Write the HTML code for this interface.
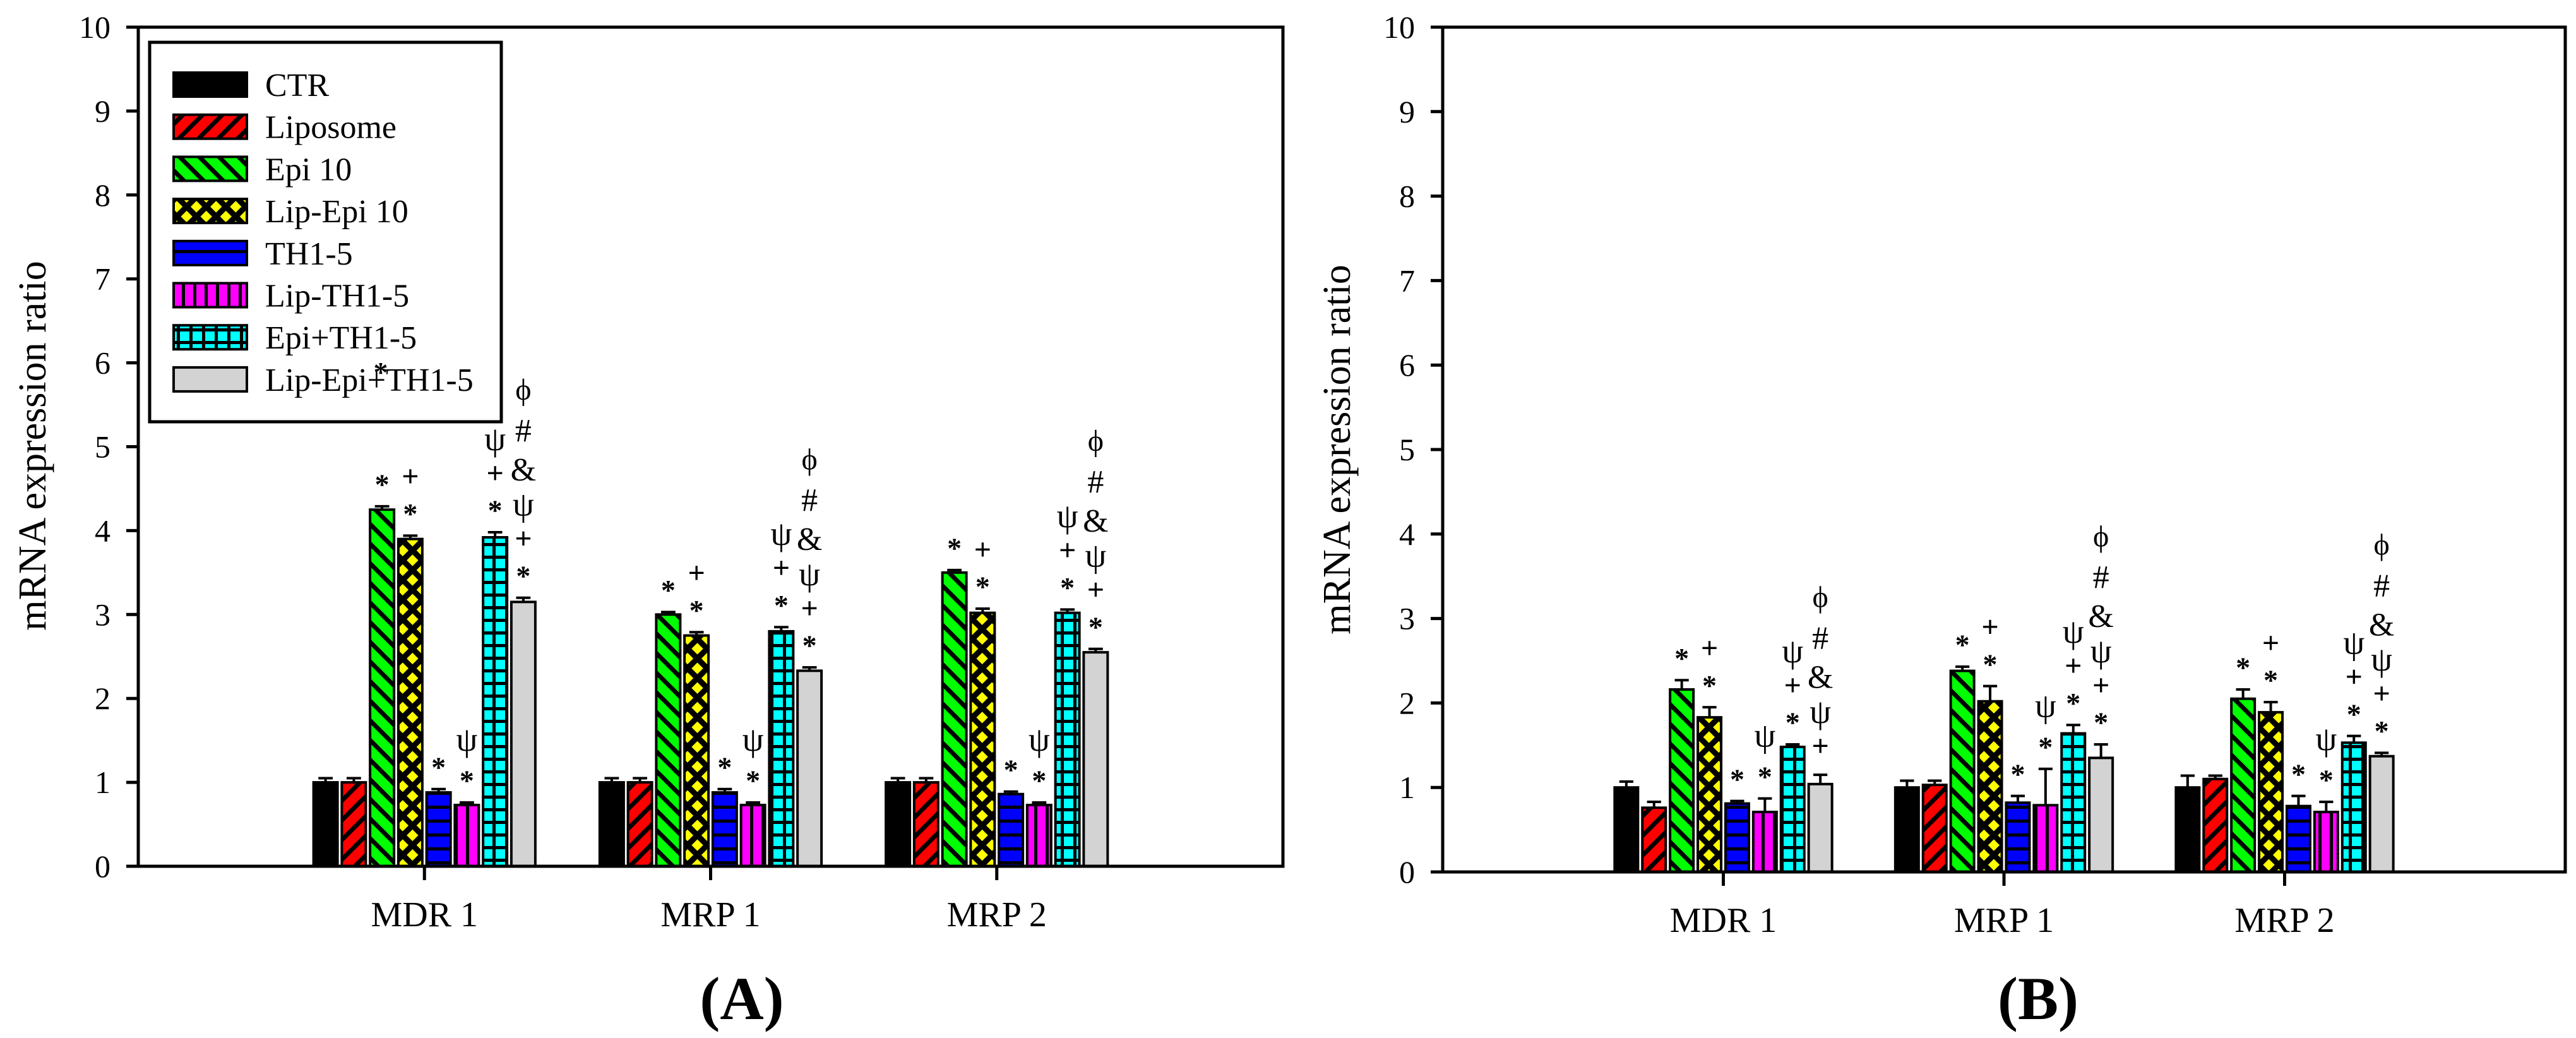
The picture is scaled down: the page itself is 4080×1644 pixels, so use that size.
<!DOCTYPE html>
<html><head><meta charset="utf-8"><style>
html,body{margin:0;padding:0;background:#fff;}
svg{display:block;}
text{font-family:"Liberation Serif",serif;}
</style></head><body>
<svg id="chart" width="4080" height="1644" viewBox="0 0 4080 1644" xmlns="http://www.w3.org/2000/svg">
<defs>
<pattern id="p-lip" patternUnits="userSpaceOnUse" width="22" height="22" patternTransform="rotate(45)"><rect width="22" height="22" fill="#ff0000"/><rect width="7" height="22" fill="#000"/></pattern>
<pattern id="p-epi" patternUnits="userSpaceOnUse" width="22" height="22" patternTransform="rotate(-45)"><rect width="22" height="22" fill="#00ff00"/><rect width="7" height="22" fill="#000"/></pattern>
<pattern id="p-lipepi" patternUnits="userSpaceOnUse" width="22" height="22" patternTransform="rotate(45)"><rect width="22" height="22" fill="#000"/><rect x="5" y="5" width="13" height="13" fill="#ffff00"/></pattern>
<pattern id="p-th" patternUnits="userSpaceOnUse" width="22" height="22"><rect width="22" height="22" fill="#0000ff"/><rect y="0" width="22" height="5" fill="#000"/></pattern>
<pattern id="p-lipth" patternUnits="userSpaceOnUse" width="18" height="18"><rect width="18" height="18" fill="#ff00ff"/><rect width="5" height="18" fill="#000"/></pattern>
<pattern id="p-epith" patternUnits="userSpaceOnUse" width="20" height="20"><rect width="20" height="20" fill="#00ffff"/><rect width="5" height="20" fill="#000"/><rect width="20" height="5" fill="#000"/></pattern>
</defs>
<g id="root"></g>
</svg>
<script>
const categories = ["MDR 1","MRP 1","MRP 2"];
const seriesNames = ["CTR","Liposome","Epi 10","Lip-Epi 10","TH1-5","Lip-TH1-5","Epi+TH1-5","Lip-Epi+TH1-5"];
const yTicks = [0,1,2,3,4,5,6,7,8,9,10];
// Panel A values [category][series]
const valuesA = [[1.0,1.0,4.25,3.9,0.88,0.73,3.92,3.15],[1.0,1.0,3.0,2.75,0.88,0.73,2.8,2.33],[1.0,1.0,3.5,3.02,0.86,0.73,3.02,2.55]];
const errorsA = [[0.05,0.05,0.04,0.04,0.04,0.03,0.06,0.05],[0.05,0.05,0.03,0.04,0.04,0.03,0.05,0.04],[0.05,0.05,0.03,0.05,0.03,0.03,0.04,0.04]];
// Panel B values
const valuesB = [[1.0,0.76,2.16,1.83,0.81,0.71,1.48,1.04],[1.0,1.03,2.38,2.02,0.82,0.79,1.64,1.35],[1.0,1.1,2.05,1.89,0.78,0.71,1.53,1.37]];
const errorsB = [[0.07,0.07,0.11,0.12,0.03,0.16,0.03,0.11],[0.08,0.05,0.05,0.18,0.08,0.43,0.10,0.16],[0.14,0.04,0.11,0.12,0.12,0.12,0.08,0.04]];
const marksStd = [[],[],["*"],["*","+"],["*"],["*","ψ"],["*","+","ψ"],["*","+","ψ","&","#","ϕ"]];
const marksB0 = [[],[],["*"],["*","+"],["*"],["*","ψ"],["*","+","ψ"],["+","ψ","&","#","ϕ"]];
const fills = ["#000","url(#p-lip)","url(#p-epi)","url(#p-lipepi)","url(#p-th)","url(#p-lipth)","url(#p-epith)","#d3d3d3"];

const NS="http://www.w3.org/2000/svg";
const root=document.getElementById('root');
function mk(tag,attrs,parent){const e=document.createElementNS(NS,tag);for(const k in attrs)e.setAttribute(k,attrs[k]);(parent||root).appendChild(e);return e;}

function panel(cfg){
  const g=mk('g',{});
  
  
  const yS=v=>cfg.zero-(cfg.zero-cfg.top)*v/10;
  const xS=i=>cfg.x0+(i+1)*(cfg.x1-cfg.x0)/4;
  categories.forEach((c,ci)=>{
    const vals=cfg.values[ci], errs=cfg.errors[ci], marks=cfg.marks(ci);
    vals.forEach((v,si)=>{
      const cx=xS(ci)+(si-3.5)*cfg.pitch;
      const top=yS(v), ebT=yS(v+errs[si]);
      const eb=mk('line',{x1:cx,x2:cx,y1:top,y2:ebT,stroke:'#000','stroke-width':4},g);
      
      
      const cap=mk('line',{x1:cx-cfg.bw*0.3,x2:cx+cfg.bw*0.3,y1:ebT,y2:ebT,stroke:'#000','stroke-width':4},g);
      
      
      const r=mk('rect',{x:cx-cfg.bw/2,y:top,width:cfg.bw,height:cfg.zero-top,fill:fills[si],stroke:'#000','stroke-width':4},g);
      
      
      let yc=ebT-46;
      marks[si].forEach((m,k)=>{
        if(k>0) yc-= (m==='&'||m==='#'||m==='ϕ')?62:48;
        let fam='"Liberation Sans",sans-serif',fs=46,off=0.58,wt='bold';
        if(m==='+'){off=0.33;fs=48;}
        if(m==='ψ'){fam='"Liberation Serif","DejaVu Serif",serif';fs=54;off=0.22;wt='normal';}
        if(m==='&'||m==='#'){fam='"Liberation Serif",serif';fs=52;off=0.35;wt='normal';}
        if(m==='ϕ'){fam='"DejaVu Serif",serif';fs=48;off=0.3;wt='normal';}
        const t=mk('text',{x:cx,y:yc+off*fs,'text-anchor':'middle','font-size':fs,'font-weight':wt,'font-family':fam},g);
        t.textContent=m;
        
        
      });
    });
    const tk=mk('line',{x1:xS(ci),x2:xS(ci),y1:cfg.zero,y2:cfg.zero+22,stroke:'#000','stroke-width':5},g);
    
    
    const tl=mk('text',{x:xS(ci),y:cfg.zero+95,'text-anchor':'middle','font-size':56},g);
    tl.textContent=c;
    
    
  });
  const fr=mk('rect',{x:cfg.x0,y:cfg.top,width:cfg.x1-cfg.x0,height:cfg.zero-cfg.top,fill:'none',stroke:'#000','stroke-width':5},g);
  
  
  yTicks.forEach(v=>{
    const l=mk('line',{x1:cfg.x0-19,x2:cfg.x0,y1:yS(v),y2:yS(v),stroke:'#000','stroke-width':5},g);
    
    
    const t=mk('text',{x:cfg.x0-44,y:yS(v)+17,'text-anchor':'end','font-size':50},g);
    t.textContent=String(v);
    
    
  });
  const yt=mk('text',{x:0,y:0,'text-anchor':'middle','font-size':62,transform:`translate(${cfg.titleX},${cfg.titleY}) rotate(-90)`},g);
  yt.textContent='mRNA expression ratio';
  
  
  const pl=mk('text',{x:cfg.labelX,y:1614,'text-anchor':'middle','font-size':96,'font-weight':'bold'},g);
  pl.textContent=cfg.label;
  
  
}

panel({name:'panel-a',x0:219,x1:2032,top:43,zero:1372,pitch:44.75,bw:38,values:valuesA,errors:errorsA,marks:()=>marksStd,titleX:72,titleY:706,labelX:1175,label:'(A)'});
panel({name:'panel-b',x0:2285,x1:4063,top:43,zero:1381,pitch:43.9,bw:37,values:valuesB,errors:errorsB,marks:ci=>ci===0?marksB0:marksStd,titleX:2138,titleY:712,labelX:3228,label:'(B)'});

const lg=mk('g',{});


const lb=mk('rect',{x:237,y:67,width:557,height:601,fill:'#fff',stroke:'#000','stroke-width':5},lg);


seriesNames.forEach((n,i)=>{
  const cy=134+66.7*i;
  const s=mk('rect',{x:275,y:cy-19,width:116,height:38,fill:fills[i],stroke:'#000','stroke-width':4},lg);
  
  
  const t=mk('text',{x:420,y:cy+18,'font-size':52},lg);
  t.textContent=n;
  
  
});
const st=mk('text',{x:603,y:605,'text-anchor':'middle','font-size':46,'font-weight':'bold','font-family':'"Liberation Sans",sans-serif'},lg);
st.textContent='*';


</script>
</body></html>
